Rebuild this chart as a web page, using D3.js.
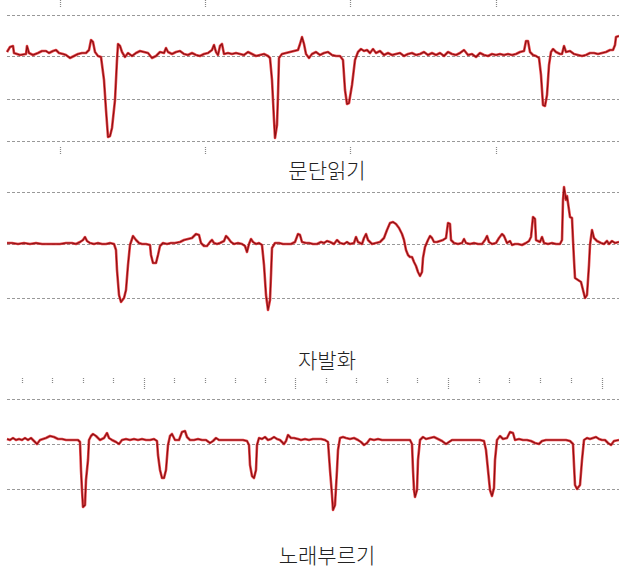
<!DOCTYPE html>
<html><head><meta charset="utf-8">
<script src="https://cdn.jsdelivr.net/npm/d3@7/dist/d3.min.js"></script>
<style>
html,body{margin:0;padding:0;background:#fff;}
svg{display:block;}
</style></head>
<body>
<script>
// ---- Data (frame index, relative pitch value) ----
const panelTitles = ["문단읽기", "자발화", "노래부르기"];

const readingContour = [[0,4],[3,9],[6,10],[7,3],[13,1],[19,2],[20,10],[22,3],[26,1],[31,3],[35,5],[39,5],[42,3],[46,5],[49,6],[52,3],[56,2],[59,1],[63,-2],[67,0],[71,2],[75,3],[79,3],[82,6],[84,16],[86,14],[88,4],[91,0],[94,-1],[97,-24],[99,-54],[101,-81],[103,-80],[105,-72],[108,-44],[110,-4],[111,12],[113,10],[115,4],[118,-1],[121,3],[125,0],[129,3],[133,5],[137,4],[141,3],[145,-2],[149,0],[153,4],[157,3],[159,8],[161,4],[165,2],[169,4],[173,5],[177,2],[181,1],[185,3],[189,1],[193,0],[197,2],[201,3],[205,6],[207,11],[209,4],[211,1],[213,10],[215,12],[217,2],[221,3],[225,2],[229,3],[233,2],[237,1],[241,4],[245,2],[249,0],[253,1],[257,2],[261,0],[263,-2],[265,-24],[267,-64],[268,-82],[270,-69],[271,-39],[272,-2],[275,2],[279,3],[283,4],[287,5],[291,6],[293,12],[295,19],[297,12],[299,2],[302,-2],[305,2],[309,4],[313,1],[317,3],[321,4],[325,1],[329,0],[333,0],[336,-4],[338,-34],[340,-48],[342,-47],[345,-29],[348,-4],[351,4],[354,7],[357,5],[360,6],[363,3],[366,7],[369,3],[373,5],[377,1],[381,3],[385,1],[389,2],[393,3],[397,0],[401,2],[405,3],[409,1],[413,2],[417,4],[421,1],[425,3],[429,1],[433,3],[437,0],[441,4],[445,2],[449,1],[453,3],[457,6],[461,1],[465,2],[469,-1],[473,3],[477,1],[481,0],[485,2],[489,1],[493,2],[497,1],[501,2],[505,1],[509,2],[513,4],[517,5],[519,15],[521,15],[523,4],[526,1],[529,0],[532,-2],[534,-19],[536,-49],[538,-50],[540,-39],[542,-9],[544,4],[546,7],[549,4],[553,2],[555,2],[557,10],[559,4],[563,5],[567,2],[571,1],[575,0],[579,1],[583,3],[587,3],[591,2],[595,3],[599,4],[603,6],[606,6],[608,11],[609,19],[612,20]];

const speechContour = [[0,1],[5,1],[11,0],[17,1],[23,0],[29,1],[35,0],[41,0],[47,0],[53,0],[59,1],[65,1],[69,0],[73,2],[76,4],[78,7],[80,3],[83,1],[87,0],[91,1],[95,0],[99,0],[103,1],[107,0],[109,-6],[110,-26],[112,-51],[114,-58],[117,-54],[119,-46],[121,-21],[123,-1],[126,8],[129,4],[132,1],[135,0],[139,0],[143,-1],[144,-11],[146,-19],[149,-19],[151,-11],[153,-2],[156,1],[160,0],[164,1],[168,1],[173,2],[177,4],[181,5],[185,6],[189,10],[192,9],[194,1],[197,-2],[200,-2],[203,2],[205,4],[207,1],[210,0],[213,1],[217,3],[219,8],[221,6],[224,2],[227,0],[231,1],[235,0],[238,-2],[240,-8],[242,0],[244,5],[246,2],[249,0],[252,1],[255,-1],[257,-21],[259,-51],[261,-66],[263,-56],[264,-31],[265,-4],[268,1],[272,1],[276,0],[280,0],[284,0],[288,2],[291,10],[293,9],[295,2],[299,1],[302,1],[306,0],[310,0],[314,2],[317,1],[320,3],[323,2],[327,0],[330,4],[333,1],[337,0],[340,2],[343,0],[347,1],[349,7],[351,2],[355,0],[357,6],[359,10],[361,4],[365,0],[369,1],[373,2],[377,6],[380,14],[383,21],[386,22],[389,20],[392,16],[395,10],[397,4],[399,-6],[401,-11],[403,-13],[405,-13],[407,-18],[409,-22],[411,-28],[413,-32],[415,-28],[416,-14],[418,-3],[421,4],[423,8],[425,6],[427,2],[430,2],[433,3],[436,4],[439,6],[441,21],[443,20],[444,4],[447,1],[451,0],[455,1],[457,5],[459,1],[463,0],[467,1],[471,0],[475,0],[478,4],[480,8],[482,2],[485,0],[489,1],[492,6],[495,10],[497,8],[500,1],[503,3],[505,-1],[508,0],[511,0],[515,-1],[519,1],[522,3],[524,7],[526,27],[528,25],[529,4],[533,2],[535,7],[537,1],[541,0],[545,1],[549,0],[553,0],[555,4],[556,44],[557,57],[559,44],[560,48],[562,34],[563,27],[565,26],[566,4],[567,-16],[568,-34],[571,-36],[574,-38],[576,-46],[578,-54],[580,-51],[582,-21],[583,-1],[585,14],[587,6],[590,3],[594,1],[597,0],[600,3],[602,0],[605,3],[608,1],[612,2]];

const singingContour = [[0,5],[3,4],[6,6],[9,4],[12,5],[15,4],[18,6],[21,4],[24,6],[27,3],[30,0],[33,4],[36,5],[39,6],[43,8],[47,7],[51,5],[55,5],[59,4],[63,4],[67,4],[71,4],[73,2],[74,-26],[75,-46],[76,-63],[78,-61],[79,-36],[81,-16],[82,4],[84,8],[86,10],[89,8],[93,4],[97,6],[100,11],[102,6],[105,4],[109,2],[112,0],[115,4],[119,5],[123,4],[127,5],[131,4],[135,5],[139,4],[143,4],[147,5],[150,3],[151,-11],[153,-26],[155,-34],[157,-34],[159,-26],[161,-1],[163,8],[165,10],[168,4],[172,4],[175,12],[178,13],[180,7],[183,4],[187,4],[191,5],[195,4],[199,4],[203,1],[206,3],[209,6],[212,4],[216,4],[220,4],[224,4],[228,4],[232,4],[236,4],[240,3],[242,-1],[243,-21],[245,-32],[247,-34],[249,-26],[250,-1],[252,6],[255,5],[258,7],[261,4],[264,5],[267,7],[270,5],[273,4],[277,0],[279,3],[281,9],[284,6],[287,6],[291,5],[294,4],[298,5],[302,4],[306,5],[310,5],[314,5],[318,4],[321,2],[323,-26],[325,-51],[326,-66],[328,-61],[330,-26],[331,-6],[333,6],[336,7],[339,6],[343,5],[347,6],[351,4],[354,2],[357,-1],[360,1],[363,5],[367,4],[371,5],[375,4],[379,4],[383,4],[387,4],[391,4],[395,4],[399,4],[403,4],[405,0],[406,-26],[407,-46],[408,-53],[410,-46],[411,-16],[413,4],[416,7],[419,5],[423,6],[427,7],[431,5],[435,3],[439,0],[442,2],[445,4],[449,4],[453,4],[457,4],[461,4],[465,4],[469,4],[473,4],[477,3],[479,-6],[481,-26],[483,-46],[485,-52],[487,-44],[488,-16],[490,4],[493,8],[496,5],[500,6],[503,12],[506,11],[508,4],[512,5],[516,4],[520,4],[524,3],[528,1],[532,0],[535,3],[539,4],[543,4],[547,4],[551,4],[555,4],[559,4],[563,3],[566,0],[567,-21],[568,-41],[570,-45],[573,-41],[575,-16],[577,4],[580,6],[583,5],[586,6],[589,7],[592,5],[595,4],[598,4],[601,1],[604,-1],[607,3],[612,4]];

const readingGrid = [41, 0, -43, -85];
const speechGrid = [52, 0, -54];
const singingGrid = [45, 0, -45];

const readingTicks = [53, 198, 343, 489];
const singingMinorTicks = [15, 45, 76, 106, 167, 198, 228, 258, 319, 349, 380, 410, 472, 502, 533, 564];
const singingMajorTicks = [137, 288, 441, 595];

// ---- Drawing ----
const W = 619, H = 569;
const svg = d3.select("body").append("svg").attr("width", W).attr("height", H)
  .style("background", "#fff");

const x = d3.scaleLinear().domain([0, 612]).range([7, 619]);

const panels = [
  {data: readingContour, grid: readingGrid, domain: [-85, 41], range: [141, 15],
   title: panelTitles[0], titleY: 178},
  {data: speechContour, grid: speechGrid, domain: [-54, 52], range: [298, 192],
   title: panelTitles[1], titleY: 368},
  {data: singingContour, grid: singingGrid, domain: [-45, 45], range: [489, 399],
   title: panelTitles[2], titleY: 563}
];

function tickAxis(g, values, size, ty) {
  const ax = d3.axisBottom(x).tickValues(values).tickSize(size).tickFormat("");
  const a = g.append("g").attr("transform", `translate(0,${ty})`).call(ax);
  a.select(".domain").remove();
  a.selectAll(".tick line").attr("stroke", "#888").attr("stroke-dasharray", "1,1")
    .attr("stroke-width", 1.2);
}

// ticks
tickAxis(svg, readingTicks, 8, 0);
tickAxis(svg, readingTicks, 7, 147);
tickAxis(svg, singingMinorTicks, 6, 378);
tickAxis(svg, singingMajorTicks, 12, 378);

panels.forEach(p => {
  const y = d3.scaleLinear().domain(p.domain).range(p.range);
  const g = svg.append("g");
  g.selectAll("line.grid").data(p.grid).enter().append("line")
    .attr("x1", 7).attr("x2", W)
    .attr("y1", d => Math.round(y(d)) + 0.5).attr("y2", d => Math.round(y(d)) + 0.5)
    .attr("stroke", "#999").attr("stroke-width", 1)
    .attr("stroke-dasharray", "3,2");
  const line = d3.line().x(d => x(d[0])).y(d => y(d[1]));
  g.append("path").datum(p.data).attr("d", line)
    .attr("fill", "none").attr("stroke", "#e3262a").attr("stroke-width", 2.6)
    .attr("stroke-linejoin", "round").attr("opacity", 0.85);
  g.append("path").datum(p.data).attr("d", line)
    .attr("fill", "none").attr("stroke", "#8a0f12").attr("stroke-width", 1.1)
    .attr("stroke-linejoin", "round");
  svg.append("text").attr("x", 327).attr("y", p.titleY)
    .attr("text-anchor", "middle")
    .attr("font-family", "'Noto Sans CJK KR', sans-serif")
    .attr("font-size", 21).attr("font-weight", 300).attr("fill", "#222")
    .text(p.title);
});
</script>
</body></html>
